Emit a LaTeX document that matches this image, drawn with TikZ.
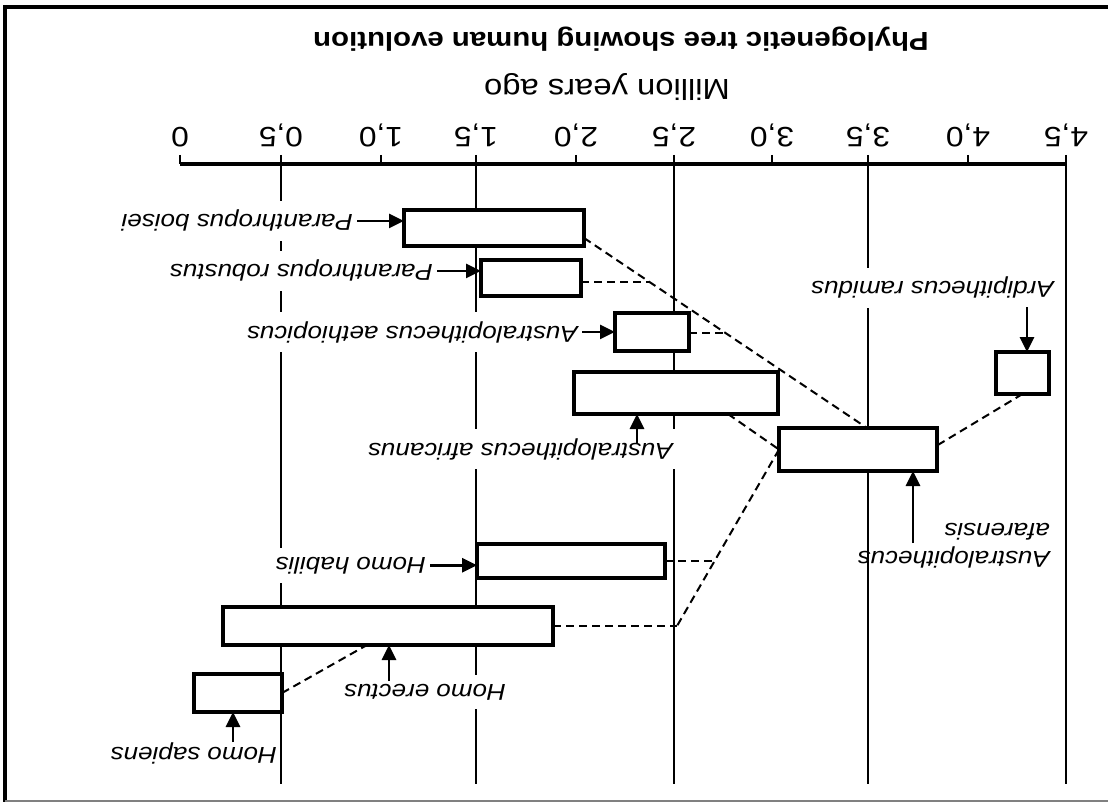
\documentclass[tikz,border=0pt]{standalone}
\usepackage{fontspec}
\setmainfont{Liberation Sans}[FakeStretch=1.13]
\usetikzlibrary{arrows.meta,calc}

\begin{document}
\begin{tikzpicture}[x=1pt,y=-1pt,
  frameline/.style={line width=4pt},
  gridline/.style={line width=2pt},
  bar/.style={draw,line width=3.5pt,fill=white,inner sep=0pt,outer sep=0pt,anchor=north west},
  branch/.style={line width=2pt,dash pattern=on 8pt off 5pt},
  arr/.style={line width=2.8pt,-{Triangle[length=15pt,width=14pt]}},
  ticklab/.style={rotate=180,anchor=base,inner sep=0pt,font=\fontsize{28}{32}\selectfont},
  species/.style={rotate=180,anchor=base west,fill=white,inner xsep=4pt,inner ysep=9pt,
                  font=\fontsize{23}{28}\selectfont\itshape},
]
% canvas
\fill[white] (0,0) rectangle (1108,802);
\useasboundingbox (0,0) rectangle (1108,802);

% frame
\draw[frameline] (3,7) -- (1108,7);
\draw[frameline] (5,5) -- (5,802);
\draw[line width=2pt,gray] (5,801) -- (1108,801);

% time grid and axis
\foreach \x in {281,476,674,868,1066}
  \draw[gridline] (\x,155) -- (\x,784);
\foreach \x in {180,381,576,772,968}
  \draw[gridline] (\x,155) -- (\x,164);
\draw[line width=4pt] (180,164) -- (1066,164);

\foreach \x/\lab/\n in {180/0/0, 281/{0,5}/1, 381/{1,0}/2, 476/{1,5}/3, 576/{2,0}/4,
                        674/{2,5}/5, 772/{3,0}/6, 868/{3,5}/7, 968/{4,0}/8, 1066/{4,5}/9}
  \node[ticklab] (t\n) at (\x,128) {\lab};

\node[rotate=180,anchor=base,inner sep=0pt,font=\fontsize{26}{30}\selectfont\bfseries]
  (title) at (621,33) {Phylogenetic tree showing human evolution};
\node[rotate=180,anchor=base,inner sep=0pt,font=\fontsize{29}{34}\selectfont]
  (units) at (607,80) {Million years ago};

% species ranges
\node[bar,minimum width=180pt,minimum height=36pt] (boisei)      at (404,210) {};
\node[bar,minimum width=100pt,minimum height=36pt] (robustus)    at (481,260) {};
\node[bar,minimum width=74pt, minimum height=38pt] (aethiopicus) at (615,313) {};
\node[bar,minimum width=204pt,minimum height=42pt] (africanus)   at (574,372) {};
\node[bar,minimum width=53pt, minimum height=42pt] (ramidus)     at (996,352) {};
\node[bar,minimum width=158pt,minimum height=43pt] (afarensis)   at (779,428) {};
\node[bar,minimum width=188pt,minimum height=34pt] (habilis)     at (477,544) {};
\node[bar,minimum width=330pt,minimum height=38pt] (erectus)     at (223,607) {};
\node[bar,minimum width=88pt, minimum height=38pt] (sapiens)     at (194,674) {};

% lines of descent
\coordinate (d0) at ($(boisei.south east)+(0,-8)$);
\coordinate (d1) at ($(afarensis.north west)+(88,0)$);
\draw[branch] (d0) -- (d1);
\coordinate (jr) at ($(d0)!0.2316!(d1)$);
\draw[branch] (robustus.east |- jr) -- (jr);
\coordinate (ja) at ($(d0)!0.5!(d1)$);
\draw[branch] (aethiopicus.east |- ja) -- (ja);
\draw[branch] ($(africanus.south west)+(154,0)$) -- (afarensis.west);
\draw[branch] (ramidus.south) -- ($(afarensis.east)+(0,-4)$);
\coordinate (k1) at ($(erectus.east)+(124,0)$);
\draw[branch] (afarensis.west) -- (k1);
\coordinate (kh) at ($(afarensis.west)!0.632!(k1)$);
\draw[branch] (habilis.east |- kh) -- (kh);
\draw[branch] (erectus.east) -- (k1);
\draw[branch] (sapiens.east) -- ($(erectus.south west)+(144,0)$);

% species names
\node[species] (lboisei)      at (357,215)  {Paranthropus boisei};
\node[species] (lrobustus)    at (437,265)  {Paranthropus robustus};
\node[species] (laethiopicus) at (582,326)  {Australopithecus aethiopicus};
\node[species] (lafricanus)   at (677,443)  {Australopithecus africanus};
\node[species] (lramidus)     at (1058,282) {Ardipithecus ramidus};
\node[species] (lhabilis)     at (430,557)  {Homo habilis};
\node[species] (lerectus)     at (510,684)  {Homo erectus};
\node[species,fill=none] (lsapiens) at (281,747) {Homo sapiens};
\node[rotate=180,anchor=north west,inner sep=0pt,align=left,
      font=\fontsize{23}{28}\selectfont\itshape]
  (lafarensis) at (1050,568) {Australopithecus\\afarensis};

% pointers from names to ranges
\draw[arr] (lboisei.west) -- (lboisei.west -| boisei.west);
\draw[arr] (lrobustus.west) -- (lrobustus.west -| robustus.west);
\draw[arr] (laethiopicus.west) -- (laethiopicus.west -| aethiopicus.west);
\draw[arr] (lhabilis.west) -- (lhabilis.west -| habilis.west);
\coordinate (tafricanus) at (637,443);
\draw[arr] (tafricanus) -- (tafricanus |- africanus.south);
\coordinate (tramidus) at (1027,307);
\draw[arr] (tramidus) -- (tramidus |- ramidus.north);
\coordinate (tafarensis) at (913,543);
\draw[arr] (tafarensis) -- (tafarensis |- afarensis.south);
\coordinate (terectus) at (389,681);
\draw[arr] (terectus) -- (terectus |- erectus.south);
\coordinate (tsapiens) at (233,742);
\draw[arr] (tsapiens) -- (tsapiens |- sapiens.south);
\end{tikzpicture}
\end{document}
